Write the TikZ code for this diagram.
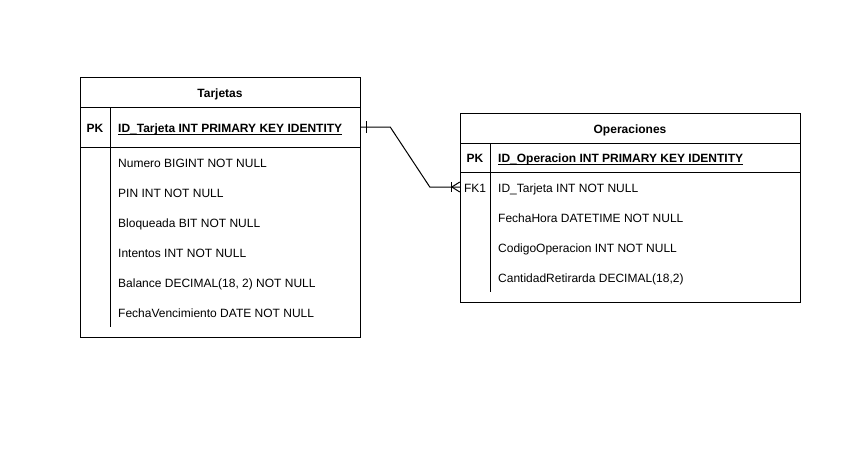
\documentclass[tikz,border=0pt]{standalone}
\usepackage{fontspec}
\setmainfont{Liberation Sans}
\usetikzlibrary{calc}
\begin{document}
\begin{tikzpicture}[x=1pt,y=-1pt,
  frame/.style={draw=black, line width=1pt},
  rowbox/.style={inner sep=0, minimum height=#1},
  fld/.style={anchor=base west, inner sep=0, font=\fontsize{12}{14}\selectfont},
  ttl/.style={anchor=base, inner sep=0, font=\fontsize{12}{14}\selectfont\bfseries},
  key/.style={anchor=base, inner sep=0, font=\fontsize{12}{14}\selectfont\bfseries},
  fk/.style={anchor=base, inner sep=0, font=\fontsize{12}{14}\selectfont},
  pkf/.style={anchor=base west, inner sep=0, font=\fontsize{12}{14}\selectfont\bfseries},
  rel/.style={draw=black, line width=1pt}]
\useasboundingbox (0,0) rectangle (850,448);
\fill[white] (0,0) rectangle (850,448);

% ---- Tarjetas ----
\draw[frame] (80,77) rectangle (360,337);
\draw[frame] (80,107) -- (360,107);
\draw[frame] (80,147) -- (360,147);
\draw[frame] (110,107) -- (110,327);
\node[rowbox=40, minimum width=280] (tpk) at (220,127) {};
\node[ttl] (tt) at (220,97) {Tarjetas};
\node[key] (tpkl) at (95,132) {PK};
\node[pkf] (tpkt) at (118,132) {ID\_Tarjeta INT PRIMARY KEY IDENTITY};
\draw[line width=0.9pt] ([yshift=-2.4pt]tpkt.base west) -- ([yshift=-2.4pt]tpkt.base east);
\node[fld] (t1) at (118,167) {Numero BIGINT NOT NULL};
\node[fld] (t2) at (118,197) {PIN INT NOT NULL};
\node[fld] (t3) at (118,227) {Bloqueada BIT NOT NULL};
\node[fld] (t4) at (118,257) {Intentos INT NOT NULL};
\node[fld] (t5) at (118,287) {Balance DECIMAL(18, 2) NOT NULL};
\node[fld] (t6) at (118,317) {FechaVencimiento DATE NOT NULL};

% ---- Operaciones ----
\draw[frame] (460,113) rectangle (800,302);
\draw[frame] (460,143) -- (800,143);
\draw[frame] (460,172) -- (800,172);
\draw[frame] (490,143) -- (490,292);
\node[rowbox=30, minimum width=340] (ofk) at (630,187) {};
\node[ttl] (ot) at (630,133) {Operaciones};
\node[key] (opkl) at (475,162.5) {PK};
\node[pkf] (opkt) at (498,162.5) {ID\_Operacion INT PRIMARY KEY IDENTITY};
\draw[line width=0.9pt] ([yshift=-2.4pt]opkt.base west) -- ([yshift=-2.4pt]opkt.base east);
\node[fk] (ofkl) at (475,192) {FK1};
\node[fld] (o1) at (498,192) {ID\_Tarjeta INT NOT NULL};
\node[fld] (o2) at (498,222) {FechaHora DATETIME NOT NULL};
\node[fld] (o3) at (498,252) {CodigoOperacion INT NOT NULL};
\node[fld] (o4) at (498,282) {CantidadRetirarda DECIMAL(18,2)};

% ---- relationship ----
\draw[rel] (tpk.east) -- ($(tpk.east)+(30,0)$) -- ($(ofk.west)+(-30,0)$) -- (ofk.west);
\draw[rel] ($(tpk.east)+(6,-6)$) -- ($(tpk.east)+(6,6)$);
\draw[rel] ($(ofk.west)+(-8,-5)$) -- ($(ofk.west)+(-8,5)$);
\draw[rel] ($(ofk.west)+(-8,0)$) -- ($(ofk.west)+(0,-5)$);
\draw[rel] ($(ofk.west)+(-8,0)$) -- ($(ofk.west)+(0,5)$);
\end{tikzpicture}
\end{document}
